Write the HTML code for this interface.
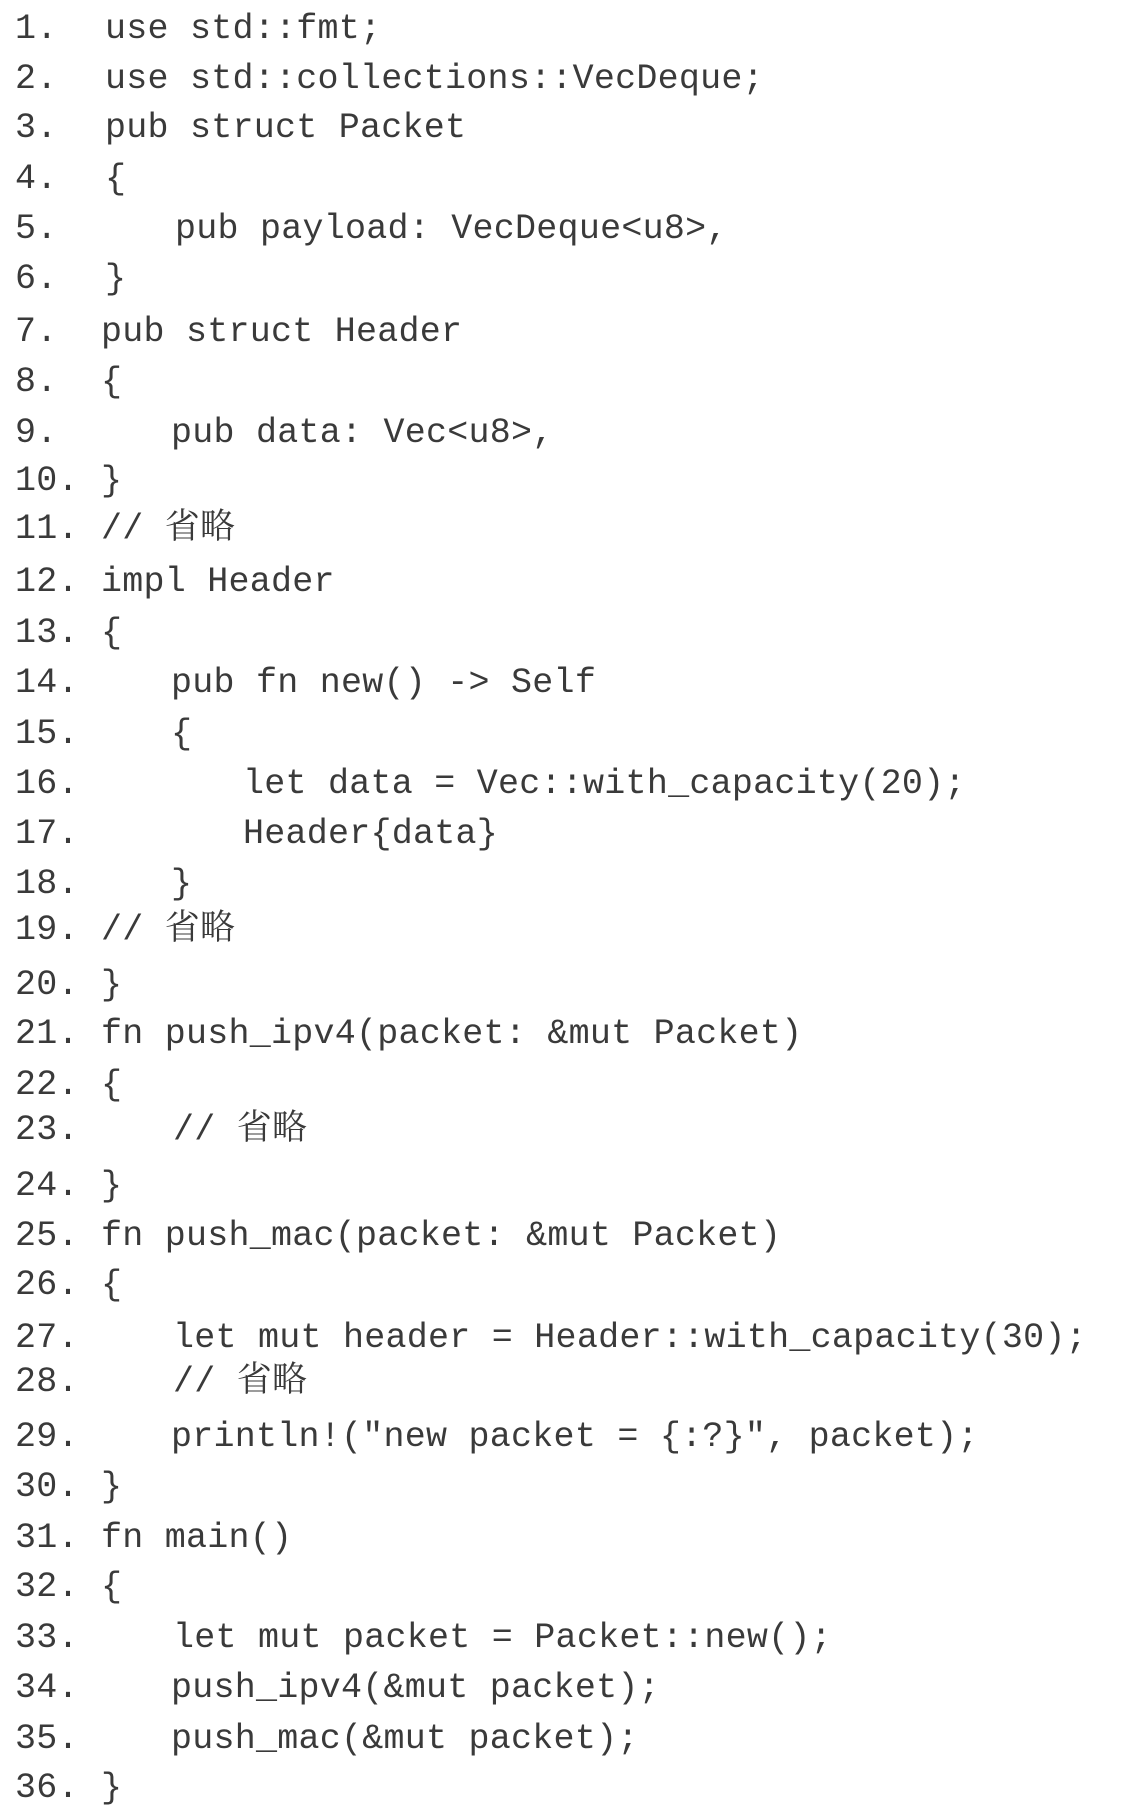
<!DOCTYPE html>
<html><head><meta charset="utf-8"><style>
html,body{margin:0;padding:0;background:#fff;}
body{width:1130px;height:1805px;position:relative;overflow:hidden;font-family:"Liberation Mono","Noto Serif CJK SC",monospace;font-size:35px;color:#3a3a3a;letter-spacing:0.25px;}
.l{position:absolute;height:40px;line-height:40px;white-space:pre;}
.n{left:15px;}
</style></head><body>
<div class="l n" style="top:9px">1.</div><div class="l" style="left:105px;top:9px">use std::fmt;</div>
<div class="l n" style="top:59px">2.</div><div class="l" style="left:105px;top:59px">use std::collections::VecDeque;</div>
<div class="l n" style="top:108px">3.</div><div class="l" style="left:105px;top:108px">pub struct Packet</div>
<div class="l n" style="top:159px">4.</div><div class="l" style="left:105px;top:159px">{</div>
<div class="l n" style="top:209px">5.</div><div class="l" style="left:175px;top:209px">pub payload: VecDeque&lt;u8&gt;,</div>
<div class="l n" style="top:259px">6.</div><div class="l" style="left:105px;top:259px">}</div>
<div class="l n" style="top:312px">7.</div><div class="l" style="left:101px;top:312px">pub struct Header</div>
<div class="l n" style="top:362px">8.</div><div class="l" style="left:101px;top:362px">{</div>
<div class="l n" style="top:413px">9.</div><div class="l" style="left:171px;top:413px">pub data: Vec&lt;u8&gt;,</div>
<div class="l n" style="top:461px">10.</div><div class="l" style="left:101px;top:461px">}</div>
<div class="l n" style="top:509px">11.</div><div class="l" style="left:101px;top:509px">// 省略</div>
<div class="l n" style="top:562px">12.</div><div class="l" style="left:101px;top:562px">impl Header</div>
<div class="l n" style="top:613px">13.</div><div class="l" style="left:101px;top:613px">{</div>
<div class="l n" style="top:663px">14.</div><div class="l" style="left:171px;top:663px">pub fn new() -&gt; Self</div>
<div class="l n" style="top:714px">15.</div><div class="l" style="left:171px;top:714px">{</div>
<div class="l n" style="top:764px">16.</div><div class="l" style="left:243px;top:764px">let data = Vec::with_capacity(20);</div>
<div class="l n" style="top:814px">17.</div><div class="l" style="left:243px;top:814px">Header{data}</div>
<div class="l n" style="top:864px">18.</div><div class="l" style="left:171px;top:864px">}</div>
<div class="l n" style="top:910px">19.</div><div class="l" style="left:101px;top:910px">// 省略</div>
<div class="l n" style="top:965px">20.</div><div class="l" style="left:101px;top:965px">}</div>
<div class="l n" style="top:1014px">21.</div><div class="l" style="left:101px;top:1014px">fn push_ipv4(packet: &amp;mut Packet)</div>
<div class="l n" style="top:1065px">22.</div><div class="l" style="left:101px;top:1065px">{</div>
<div class="l n" style="top:1110px">23.</div><div class="l" style="left:173px;top:1110px">// 省略</div>
<div class="l n" style="top:1166px">24.</div><div class="l" style="left:101px;top:1166px">}</div>
<div class="l n" style="top:1216px">25.</div><div class="l" style="left:101px;top:1216px">fn push_mac(packet: &amp;mut Packet)</div>
<div class="l n" style="top:1265px">26.</div><div class="l" style="left:101px;top:1265px">{</div>
<div class="l n" style="top:1318px">27.</div><div class="l" style="left:173px;top:1318px">let mut header = Header::with_capacity(30);</div>
<div class="l n" style="top:1362px">28.</div><div class="l" style="left:173px;top:1362px">// 省略</div>
<div class="l n" style="top:1417px">29.</div><div class="l" style="left:171px;top:1417px">println!("new packet = {:?}", packet);</div>
<div class="l n" style="top:1467px">30.</div><div class="l" style="left:101px;top:1467px">}</div>
<div class="l n" style="top:1518px">31.</div><div class="l" style="left:101px;top:1518px">fn main()</div>
<div class="l n" style="top:1567px">32.</div><div class="l" style="left:101px;top:1567px">{</div>
<div class="l n" style="top:1618px">33.</div><div class="l" style="left:173px;top:1618px">let mut packet = Packet::new();</div>
<div class="l n" style="top:1668px">34.</div><div class="l" style="left:171px;top:1668px">push_ipv4(&amp;mut packet);</div>
<div class="l n" style="top:1719px">35.</div><div class="l" style="left:171px;top:1719px">push_mac(&amp;mut packet);</div>
<div class="l n" style="top:1768px">36.</div><div class="l" style="left:101px;top:1768px">}</div>
</body></html>
